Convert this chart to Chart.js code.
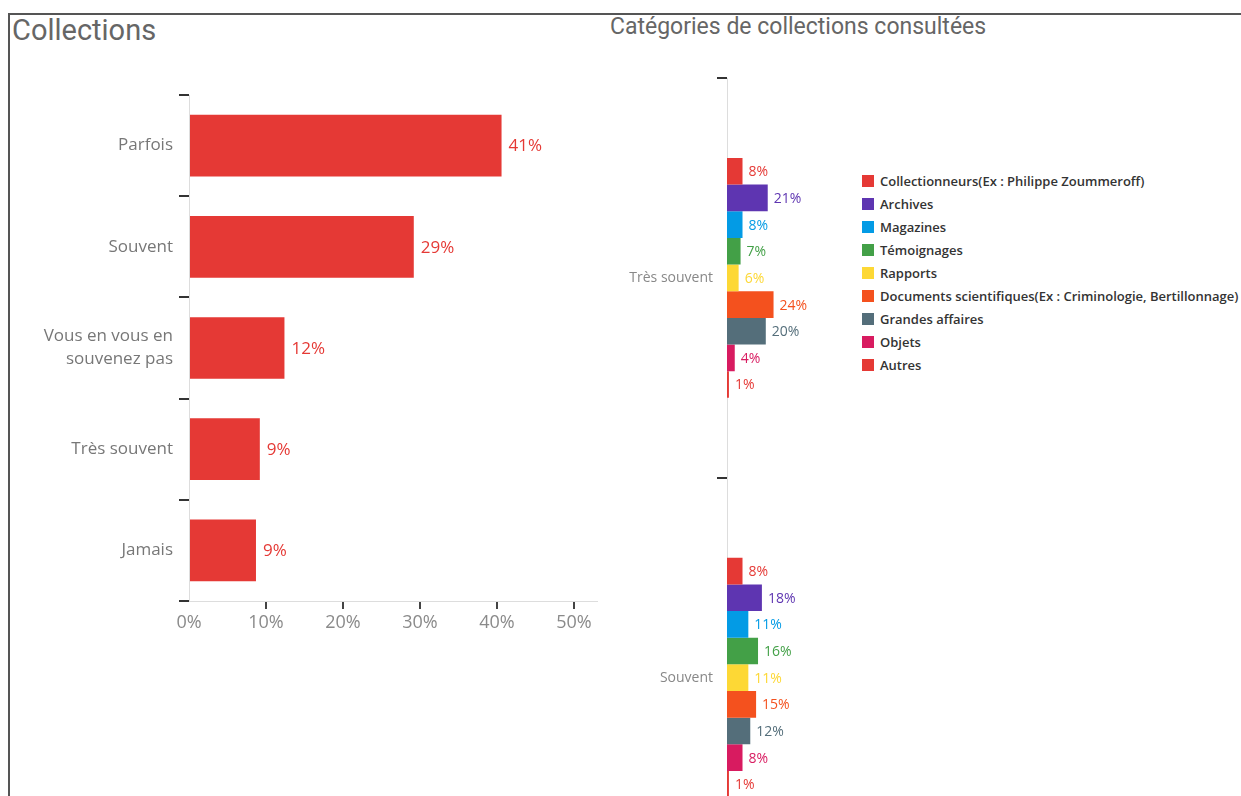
<!DOCTYPE html>
<html lang="fr">
<head>
<meta charset="utf-8">
<script src="https://cdn.jsdelivr.net/npm/chart.js@4"></script>
<style>
  html, body { margin: 0; padding: 0; background: #fff; width: 1241px; height: 796px; overflow: hidden; position: relative; }
  .frame { position: absolute; left: 8px; top: 13px; right: -10px; bottom: -10px; border-left: 2px solid #555; border-top: 2px solid #555; }
  .title { position: absolute; font-family: Roboto, sans-serif; color: #666; white-space: nowrap; line-height: 1; }
  .box { position: absolute; }
  #legend { position: absolute; left: 862px; top: 170px; font-family: "Open Sans", sans-serif; font-size: 13px; font-weight: 600; color: #333; white-space: nowrap; }
  #legend div { height: 22.9px; display: flex; align-items: center; }
  #legend span.sw { display: inline-block; width: 12px; height: 12px; margin-right: 6px; }
</style>
</head>
<body>
<div class="frame"></div>
<div class="title" style="left:12px;top:16px;font-size:29px;">Collections</div>
<div class="title" style="left:610px;top:15px;font-size:23px;">Catégories de collections consultées</div>

<div class="box" style="left:10px;top:60px;width:600px;height:600px;"><canvas id="leftChart"></canvas></div>
<div class="box" style="left:600px;top:60px;width:255px;height:830px;"><canvas id="rightChart"></canvas></div>
<div id="legend"></div>

<script>
// left chart: Collections
const freqLabels = ['Parfois', 'Souvent', ['Vous en vous en', 'souvenez pas'], 'Très souvent', 'Jamais'];
const freqValues = [40.6, 29.2, 12.4, 9.2, 8.7];
const freqShown = ['41%', '29%', '12%', '9%', '9%'];
const xTicks = [0, 10, 20, 30, 40, 50];

// right chart: categories consulted
const groupLabels = ['Très souvent', 'Souvent'];
const catNames = [
  'Collectionneurs(Ex : Philippe Zoummeroff)', 'Archives', 'Magazines', 'Témoignages', 'Rapports',
  'Documents scientifiques(Ex : Criminologie, Bertillonnage)', 'Grandes affaires', 'Objets', 'Autres'
];
const catColors = ['#e53935', '#5e35b1', '#039be5', '#43a047', '#fdd835', '#f4511e', '#546e7a', '#d81b60', '#e53935'];
const tresSouventValues = [8, 21, 8, 7, 6, 24, 20, 4, 1];
const souventValues = [8, 18, 11, 16, 11, 15, 12, 8, 1];

const FONT = '"Open Sans", sans-serif';

// draws "xx%" next to every bar end
const valueLabels = {
  id: 'valueLabels',
  afterDatasetsDraw(chart, args, opts) {
    const ctx = chart.ctx;
    ctx.save();
    ctx.font = opts.size + 'px ' + FONT;
    ctx.textBaseline = 'middle';
    ctx.textAlign = 'left';
    chart.data.datasets.forEach((ds, i) => {
      const meta = chart.getDatasetMeta(i);
      meta.data.forEach((bar, j) => {
        ctx.fillStyle = ds.backgroundColor;
        const txt = ds.shown ? ds.shown[j] : ds.data[j] + '%';
        ctx.fillText(txt, bar.x + opts.gap, bar.y + 1);
      });
    });
    ctx.restore();
  }
};

new Chart(document.getElementById('leftChart'), {
  type: 'bar',
  data: {
    labels: freqLabels,
    datasets: [{ data: freqValues, shown: freqShown, backgroundColor: '#e53935', categoryPercentage: 0.61, barPercentage: 1 }]
  },
  options: {
    indexAxis: 'y',
    responsive: true, maintainAspectRatio: false, animation: false,
    layout: { padding: { top: 35, right: 13, left: 0, bottom: 0 } },
    plugins: { legend: { display: false }, tooltip: { enabled: false }, valueLabels: { size: 17, gap: 7 } },
    scales: {
      x: {
        min: 0, max: 53,
        afterBuildTicks: s => { s.ticks = xTicks.map(v => ({ value: v })); },
        afterFit: s => { s.height = 59; },
        border: { color: '#ddd' },
        grid: { drawOnChartArea: false, tickLength: 8, lineWidth: 2, color: c => (c.tick && c.tick.value === 0) ? 'rgba(0,0,0,0)' : '#444' },
        ticks: { callback: v => v + '%', color: '#8a8a8a', font: { family: FONT, size: 18 }, padding: 3 }
      },
      y: {
        afterFit: s => { s.width = 179; },
        border: { color: '#ddd' },
        grid: { drawOnChartArea: false, offset: true, tickLength: 10, lineWidth: 2, color: '#333' },
        ticks: { color: '#777', font: { family: FONT, size: 17, lineHeight: 1.35 }, padding: 6 }
      }
    }
  },
  plugins: [valueLabels]
});

new Chart(document.getElementById('rightChart'), {
  type: 'bar',
  data: {
    labels: groupLabels,
    datasets: catNames.map((name, i) => ({
      label: name,
      data: [tresSouventValues[i], souventValues[i]],
      backgroundColor: catColors[i],
      categoryPercentage: 0.6,
      barPercentage: 1
    }))
  },
  options: {
    indexAxis: 'y',
    responsive: true, maintainAspectRatio: false, animation: false,
    layout: { padding: { top: 18, right: 0, left: 0, bottom: 0 } },
    plugins: { legend: { display: false }, tooltip: { enabled: false }, valueLabels: { size: 14, gap: 6 } },
    scales: {
      x: { display: false, min: 0, max: 66 },
      y: {
        afterFit: s => { s.width = 127; },
        border: { color: '#ddd' },
        grid: { drawOnChartArea: false, offset: true, tickLength: 10, lineWidth: 2, color: '#333' },
        ticks: { color: '#888', font: { family: FONT, size: 14 }, padding: 4 }
      }
    }
  },
  plugins: [valueLabels]
});

// html legend for the right chart
const legendEl = document.getElementById('legend');
legendEl.innerHTML = catNames.map((n, i) =>
  `<div><span class="sw" style="background:${catColors[i]}"></span>${n}</div>`).join('');
</script>
</body>
</html>
